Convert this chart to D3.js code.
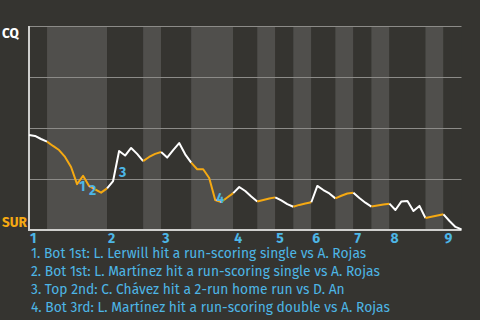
<!DOCTYPE html>
<html>
<head>
<meta charset="utf-8">
<script src="https://cdn.jsdelivr.net/npm/d3@7"></script>
<style>
  body { margin: 0; background: #353430; }
  svg { display: block; }
  text { font-family: "Fira Sans", "Noto Sans", sans-serif; }
</style>
</head>
<body>
<div id="chart"></div>
<script>
// plate appearances per half inning (T1, B1, T2, B2 ...)
var halfInnings = [3, 10, 6, 3, 5, 7, 4, 3, 3, 3, 4, 3, 3, 3, 6, 3, 3];
var innings = ["1", "2", "3", "4", "5", "6", "7", "8", "9"];

// CQ win probability after each plate appearance
var winProb = [
  0.466, 0.461, 0.446,
  0.433, 0.412, 0.392, 0.358, 0.309, 0.225, 0.266, 0.216, 0.199, 0.183, 0.204,
  0.240, 0.387, 0.365, 0.402, 0.373, 0.338,
  0.358, 0.373, 0.382,
  0.355, 0.392, 0.426, 0.371, 0.330,
  0.298, 0.298, 0.255, 0.147, 0.137, 0.159, 0.181,
  0.211, 0.191, 0.164, 0.140,
  0.147, 0.154, 0.160,
  0.145, 0.127, 0.114,
  0.123, 0.130, 0.136,
  0.216, 0.196, 0.179, 0.155,
  0.168, 0.179, 0.183,
  0.157, 0.134, 0.115,
  0.120, 0.125, 0.129,
  0.098, 0.140, 0.142, 0.093, 0.118, 0.059,
  0.065, 0.071, 0.077,
  0.044, 0.015, 0.003
];

var eventIdx = [8, 10, 15, 31];
var eventText = [
  "1. Bot 1st: L. Lerwill hit a run-scoring single vs A. Rojas",
  "2. Bot 1st: L. Martínez hit a run-scoring single vs A. Rojas",
  "3. Top 2nd: C. Chávez hit a 2-run home run vs D. An",
  "4. Bot 3rd: L. Martínez hit a run-scoring double vs A. Rojas"
];
var teams = ["CQ", "SUR"];

var width = 480, height = 320;
var margin = {top: 26, right: 18, bottom: 90, left: 29};
var orange = "#f5a912", blue = "#4db6e6";

var svg = d3.select("#chart").append("svg")
  .attr("width", width)
  .attr("height", height);

var total = d3.sum(halfInnings);
var x = d3.scaleLinear().domain([0, total]).range([margin.left, width - margin.right - 0.5]);
var y = d3.scaleLinear().domain([0, 1]).range([height - margin.bottom, margin.top]);

// half inning start indices
var starts = [0];
halfInnings.forEach(function(n, i) { starts.push(starts[i] + n); });

// bands
svg.append("g").selectAll("rect")
  .data(halfInnings)
  .enter().append("rect")
  .attr("x", function(d, i) { return x(starts[i]); })
  .attr("y", y(1))
  .attr("width", function(d, i) { return x(starts[i + 1]) - x(starts[i]); })
  .attr("height", y(0) - y(1))
  .attr("fill", function(d, i) { return i % 2 ? "#504f4c" : "#353430"; });

// grid
svg.append("g").selectAll("line")
  .data([0.25, 0.5, 0.75, 1])
  .enter().append("line")
  .attr("x1", x(0)).attr("x2", x(total))
  .attr("y1", function(d) { return y(d) + 0.5; })
  .attr("y2", function(d) { return y(d) + 0.5; })
  .attr("stroke", "#8c8b88")
  .attr("stroke-width", 1.2);

// axes
svg.append("line")
  .attr("x1", x(0)).attr("x2", x(total))
  .attr("y1", y(0)).attr("y2", y(0))
  .attr("stroke", "#cfcfcd").attr("stroke-width", 2);
svg.append("line")
  .attr("x1", x(0)).attr("x2", x(0))
  .attr("y1", y(1)).attr("y2", y(0) + 1)
  .attr("stroke", "#cfcfcd").attr("stroke-width", 2);

// line, one path per half inning
var line = d3.line()
  .x(function(d) { return x(d.i); })
  .y(function(d) { return y(d.v); });

halfInnings.forEach(function(n, h) {
  var pts = [];
  for (var i = starts[h]; i <= starts[h + 1] && i < winProb.length; i++) {
    pts.push({i: i, v: winProb[i]});
  }
  svg.append("path")
    .attr("d", line(pts))
    .attr("fill", "none")
    .attr("stroke", h % 2 ? orange : "#ffffff")
    .attr("stroke-width", 2)
    .attr("stroke-linejoin", "round");
});

// event labels
var off = [[2, 7], [0, 9], [0, 26], [1, 3]];
svg.append("g").selectAll("text")
  .data(eventIdx)
  .enter().append("text")
  .attr("x", function(d, i) { return x(d) + off[i][0]; })
  .attr("y", function(d, i) { return y(winProb[d]) + off[i][1]; })
  .attr("fill", blue)
  .attr("font-size", 14)
  .attr("font-weight", "bold")
  .text(function(d, i) { return i + 1; });

// inning labels
var inningStarts = innings.map(function(d, i) { return starts[i * 2]; });
svg.append("g").selectAll("text")
  .data(innings)
  .enter().append("text")
  .attr("x", function(d, i) { return x(inningStarts[i]) + 1; })
  .attr("y", 243)
  .attr("fill", blue)
  .attr("font-size", 14)
  .attr("font-weight", "bold")
  .text(function(d) { return d; });

// team labels
svg.append("text")
  .attr("x", 2).attr("y", 38)
  .attr("fill", "#ffffff")
  .attr("font-size", 13.5)
  .attr("font-weight", "bold")
  .text(teams[0]);
svg.append("text")
  .attr("x", 2).attr("y", 227)
  .attr("fill", orange)
  .attr("font-size", 13.5)
  .attr("font-weight", "bold")
  .text(teams[1]);

// footnotes
svg.append("g").selectAll("text")
  .data(eventText)
  .enter().append("text")
  .attr("x", 31)
  .attr("y", function(d, i) { return 258 + i * 18; })
  .attr("fill", blue)
  .attr("font-size", 13.8)
  .text(function(d) { return d; });
</script>
</body>
</html>
